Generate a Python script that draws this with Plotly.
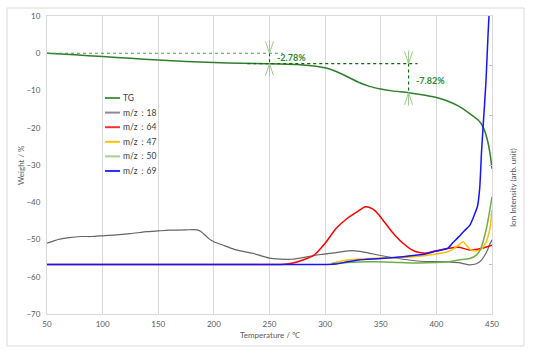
import plotly.graph_objects as go

# ---------------- data ----------------
temp_tg = [50, 75, 100, 125, 150, 175, 200, 225, 250, 275, 290, 300, 310, 320, 330, 340, 350,
           360, 375, 390, 400, 410, 420, 430, 437, 440, 443, 446, 448, 450]
weight_tg = [0, -0.4, -0.9, -1.35, -1.8, -2.2, -2.5, -2.7, -2.8, -3.0, -3.4, -3.9, -4.9, -6.3,
             -7.8, -8.9, -9.6, -10.1, -10.6, -11.3, -11.9, -12.8, -14.2, -16.2, -17.8, -18.8,
             -20.5, -23.5, -26.5, -31.0]

temp_18 = [50, 55, 60, 70, 80, 90, 100, 110, 125, 140, 150, 160, 175, 185, 188, 192, 196, 200,
           210, 220, 235, 250, 270, 290, 310, 325, 335, 350, 370, 390, 400, 410, 420, 430, 436,
           440, 443, 446, 448, 450]
ion_18 = [-51.0, -50.5, -50.0, -49.5, -49.2, -49.2, -49.0, -48.8, -48.4, -47.9, -47.7, -47.5,
          -47.4, -47.4, -47.8, -48.8, -49.9, -50.6, -51.7, -52.8, -53.7, -55.0, -55.3, -54.3,
          -53.5, -53.0, -53.4, -54.3, -55.3, -55.9, -55.9, -56.0, -56.2, -56.8, -56.5, -55.7,
          -54.5, -52.8, -51.3, -50.1]

temp_64 = [50, 250, 260, 270, 280, 290, 300, 310, 320, 330, 336, 340, 345, 350, 360, 370, 380,
           390, 400, 410, 420, 430, 440, 450]
ion_64 = [-56.7, -56.7, -56.7, -56.4, -55.5, -54.2, -51.0, -47.0, -44.3, -42.3, -41.2, -41.4,
          -42.3, -44.0, -47.9, -51.0, -53.1, -53.7, -53.0, -52.4, -52.1, -52.8, -52.4, -51.5]

temp_47 = [306, 320, 340, 360, 380, 400, 410, 415, 420, 424, 428, 431, 436, 440, 445, 447,
           448.5, 450]
ion_47 = [-56.4, -55.5, -55.1, -54.9, -54.6, -53.9, -53.3, -52.6, -51.5, -50.6, -51.9, -52.8,
          -53.0, -52.8, -50.5, -48.5, -46.5, -42.0]

temp_50 = [306, 320, 340, 360, 380, 400, 410, 420, 430, 436, 440, 444, 447, 450]
ion_50 = [-56.5, -56.2, -56.0, -56.1, -56.3, -56.2, -56.0, -55.5, -55.1, -54.2, -52.4, -48.3,
          -43.9, -38.5]

temp_69 = [50, 300, 310, 320, 330, 350, 370, 390, 400, 410, 415, 420, 425, 430, 434, 437, 439,
           440.5, 442, 444.5, 446.5, 448]
ion_69 = [-56.7, -56.7, -56.6, -56.0, -55.5, -55.1, -54.6, -53.9, -53.1, -52.4, -50.8, -49.3,
          -47.7, -46.2, -43.5, -41.0, -36.0, -27.0, -19.7, -8.0, 5.4, 14.0]

series_names = ["TG", "m/z：18", "m/z：64", "m/z：47", "m/z：50", "m/z：69"]
series_colors = ["#2F7F2F", "#666666", "#FF0000", "#FFC000", "#70AD47", "#1414FF"]
legend_colors = ["#4E9A4E", "#8C8C8C", "#FF3030", "#FFC000", "#A9D18E", "#3030FF"]

# weight-loss step annotations
dim_temps = [250, 375]
dim_top = [0.0, -2.78]
dim_bottom = [-2.78, -10.60]
dim_labels = ["-2.78%", "-7.82%"]
guide_x0 = [50, 230]
guide_x1 = [262, 383]

x_ticks = [50, 100, 150, 200, 250, 300, 350, 400, 450]
y_ticks = [10, 0, -10, -20, -30, -40, -50, -60, -70]

# ---------------- figure ----------------
fig = go.Figure()

ion_x = [temp_18, temp_64, temp_47, temp_50, temp_69]
ion_y = [ion_18, ion_64, ion_47, ion_50, ion_69]
for i in range(5):
    fig.add_trace(go.Scatter(x=ion_x[i], y=ion_y[i], mode="lines", yaxis="y2",
                             name=series_names[i + 1], showlegend=False,
                             line=dict(color=series_colors[i + 1],
                                       width=1.2 if i == 0 else 1.5,
                                       shape="spline", smoothing=0.6)))

fig.add_trace(go.Scatter(x=temp_tg, y=weight_tg, mode="lines", name="TG", showlegend=False,
                         line=dict(color=series_colors[0], width=1.5, shape="spline",
                                   smoothing=0.6)))

# guide dotted lines
guide_colors = ["#4E9A4E", "#0B6B0B"]
for i in range(2):
    fig.add_trace(go.Scatter(x=[guide_x0[i], guide_x1[i]], y=[dim_top[i], dim_top[i]],
                             mode="lines", showlegend=False, hoverinfo="skip",
                             line=dict(color=guide_colors[i], width=1.2, dash="dot")))
    fig.add_trace(go.Scatter(x=[dim_temps[i], dim_temps[i]], y=[dim_top[i], dim_bottom[i]],
                             mode="lines", showlegend=False, hoverinfo="skip",
                             line=dict(color="#0B6B0B", width=1.2, dash="dot")))

shapes = []
star_color = "#9CCB8C"
arms = [(0, 13), (-4, 12), (4, 12)]
for i in range(2):
    for level, sign in ((dim_top[i], 1), (dim_bottom[i], -1)):
        for dx, dy in arms:
            shapes.append(dict(type="line", xref="x", yref="y",
                               xsizemode="pixel", xanchor=dim_temps[i], x0=0, x1=dx,
                               ysizemode="pixel", yanchor=level, y0=0, y1=sign * dy,
                               line=dict(color=star_color, width=1)))

annotations = []
label_yshift = [1, -2]
for i in range(2):
    annotations.append(dict(x=dim_temps[i], y=(dim_top[i] + dim_bottom[i]) / 2,
                            xref="x", yref="y", text="<b>%s</b>" % dim_labels[i],
                            showarrow=False, xanchor="left", yanchor="middle",
                            xshift=5, yshift=label_yshift[i],
                            font=dict(size=9, color="#2E8A2E", family="Lato")))

# manual legend (upper-left inside plot)
plot_l, plot_r, plot_t, plot_b = 47, 492, 16, 314
W, H = 538, 355
def px_to_paper_x(px):
    return (px - plot_l) / (plot_r - plot_l)
def px_to_paper_y(py):
    return (plot_b - py) / (plot_b - plot_t)

leg_x0, leg_x1, leg_y0, leg_step = 105, 120, 98, 14.6
for k, name in enumerate(series_names):
    yy = px_to_paper_y(leg_y0 + k * leg_step)
    shapes.append(dict(type="line", xref="paper", yref="paper",
                       x0=px_to_paper_x(leg_x0), x1=px_to_paper_x(leg_x1), y0=yy, y1=yy,
                       line=dict(color=legend_colors[k], width=2)))
    annotations.append(dict(x=px_to_paper_x(leg_x1 + 1), y=yy, xref="paper", yref="paper",
                            text=name, showarrow=False, xanchor="left", yanchor="middle",
                            font=dict(size=8.5, color="#404040", family="Lato")))

# axis titles
annotations.append(dict(x=px_to_paper_x(21), y=0.5, xref="paper", yref="paper",
                        text="Weight / %", textangle=-90, showarrow=False,
                        xanchor="center", yanchor="middle",
                        font=dict(size=8, color="#595959", family="Lato")))
annotations.append(dict(x=px_to_paper_x(513), y=px_to_paper_y(188), xref="paper", yref="paper",
                        text="Ion Intensity (arb. unit)", textangle=-90, showarrow=False,
                        xanchor="center", yanchor="middle",
                        font=dict(size=8, color="#595959", family="Lato")))
annotations.append(dict(x=0.5, y=px_to_paper_y(335), xref="paper", yref="paper",
                        text="Temperature / ℃", showarrow=False,
                        xanchor="center", yanchor="middle",
                        font=dict(size=8, color="#595959", family="Lato")))

# outer chart border
shapes.append(dict(type="rect", xref="paper", yref="paper",
                   x0=px_to_paper_x(7), x1=px_to_paper_x(524),
                   y0=px_to_paper_y(346), y1=px_to_paper_y(8),
                   line=dict(color="#D9D9D9", width=1), fillcolor="rgba(0,0,0,0)",
                   layer="below"))

fig.update_layout(
    width=W, height=H,
    margin=dict(l=plot_l, r=W - plot_r, t=plot_t, b=H - plot_b),
    paper_bgcolor="white", plot_bgcolor="white",
    showlegend=False,
    font=dict(family="Lato", size=8, color="#595959"),
    xaxis=dict(range=[50, 450], tickvals=x_ticks, showgrid=True, gridcolor="#D9D9D9",
               gridwidth=1, showline=True, linecolor="#D9D9D9", mirror=True, ticks="",
               zeroline=False, ticklabelstandoff=2, tickfont=dict(size=8, color="#595959")),
    yaxis=dict(range=[-70, 10], tickvals=y_ticks, showgrid=False, showline=True,
               linecolor="#D9D9D9", ticks="", zeroline=False, ticklabelstandoff=4,
               tickfont=dict(size=8, color="#595959")),
    yaxis2=dict(range=[-70, 10], overlaying="y", side="right", showgrid=False,
                showline=True, linecolor="#D9D9D9", showticklabels=False,
                tickvals=[10 - 80 * k / 6 for k in range(7)], ticks="inside", ticklen=3,
                tickcolor="#BFBFBF", zeroline=False),
    shapes=shapes, annotations=annotations,
)

fig.write_html("out.html", config={"displayModeBar": False},
               post_script="document.body.style.margin='0';document.body.style.padding='0';")
